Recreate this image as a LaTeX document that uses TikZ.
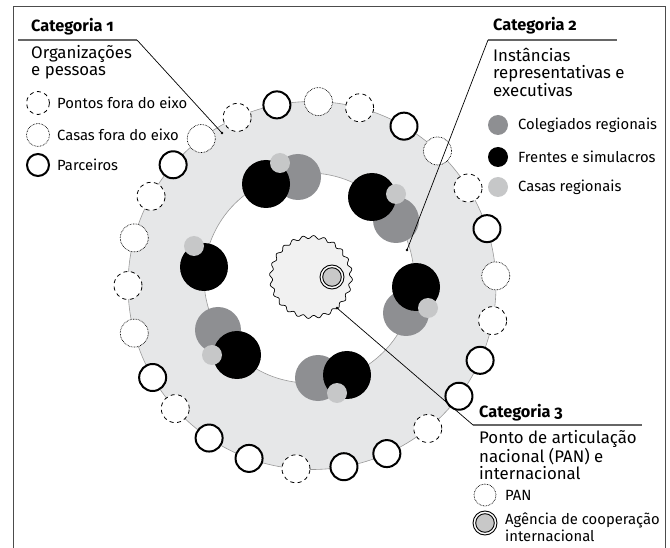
\documentclass[tikz,border=0pt]{standalone}
\usepackage{fontspec}
\setmainfont{Fira Sans}[Numbers=OldStyle]
\usepackage{tikz}
\usetikzlibrary{calc}

\definecolor{cinzaanel}{RGB}{230,231,232}
\definecolor{colegiado}{RGB}{142,143,146}
\definecolor{casareg}{RGB}{198,199,200}
\definecolor{panfundo}{RGB}{241,241,241}
\definecolor{agencia}{RGB}{200,200,200}

\tikzset{
  parceiro/.style={circle, draw=black, line width=2pt, fill=white, minimum size=27pt, inner sep=0pt},
  ponto/.style={circle, draw=black, line width=0.8pt, dash pattern=on 4pt off 3.5pt, fill=white, minimum size=28pt, inner sep=0pt},
  casa/.style={circle, draw=black, line width=0.7pt, dash pattern=on 0.7pt off 0.9pt, fill=white, minimum size=28pt, inner sep=0pt},
  titulo/.style={anchor=west, inner sep=0pt, font=\fontsize{16.3}{17}\selectfont\bfseries},
  texto/.style={anchor=west, align=left, inner sep=0pt, font=\fontsize{16.8}{17.5}\selectfont},
  legenda/.style={anchor=west, align=left, inner sep=0pt, font=\fontsize{14.8}{16.5}\selectfont},
  seta/.style={draw=black, line width=0.7pt},
  regua/.style={draw=black!60, line width=1.1pt}
}

\begin{document}
\begin{tikzpicture}[x=1pt,y=-1pt]
\useasboundingbox (0,0) rectangle (670,548);
\draw [black!70, line width=1pt] (13,548) -- (13,7) -- (665,7) -- (665,548);

% anel externo e circulo interno
\coordinate (centro) at (312,285.5);
\draw [black!40, line width=0.6pt, fill=cinzaanel] (centro) circle [radius=184];
\draw [black!40, line width=0.6pt, fill=white] (309,278) circle [radius=105];

\foreach \a/\s [count=\i] in {101/parceiro, 88/casa, 75/ponto, 60/parceiro, 47/casa, 32/ponto,
  18/parceiro, 3/casa, -11/ponto, -24/parceiro, -37/parceiro, -51/ponto, -66/parceiro,
  -80/parceiro, -95/ponto, -110/parceiro, -124/parceiro, -138/ponto, -150/parceiro,
  -165/casa, -180/ponto, 165/casa, 151/ponto, 139/parceiro, 127/casa, 114/ponto}
  \node [\s] (r\i) at ($(centro)+({-\a}:184)$) {};

% instancias regionais
\foreach \gx/\gy/\bx/\by/\cx/\cy in {298/177/266/184/280/163, 396/220/372/197/396/194,
  406/313/416/287/428/308, 218/330/237/355/212/355, 318/378/347/375/337/393} {
  \fill [colegiado] (\gx,\gy) circle [radius=23];
  \fill [black] (\bx,\by) circle [radius=24];
  \fill [casareg] (\cx,\cy) circle [radius=10];
}
\fill [black] (204,267) circle [radius=24];
\fill [casareg] (194,246) circle [radius=10];

% PAN
\draw [black, line width=0.7pt, fill=panfundo] plot [domain=0:360, samples=400, smooth]
  ({311+(40+1.5*sin(24*\x))*cos(\x)}, {277+(40+1.5*sin(24*\x))*sin(\x)});
\draw [line width=0.9pt, fill=white] (332,277) circle [radius=12];
\draw [line width=0.9pt, fill=agencia] (332,277) circle [radius=9.3];

% Categoria 1
\node [titulo] (cat1) at (31,27) {Categoria 1};
\node [texto] (txt1) at (31,62) {Organizações\\e pessoas};
\coordinate (c1a) at (18,40);
\coordinate (c1b) at (137,40);
\coordinate (c1c) at (222,133);
\draw [regua] (c1a) -- (c1b);
\draw [seta] (c1b) -- (c1c); \fill (c1c) circle [radius=1.3];
\node [ponto, minimum size=23pt] (l1a) at (38,103) {};
\node [legenda] at (57,103) {Pontos fora do eixo};
\node [casa, minimum size=23pt] (l1b) at (38,135) {};
\node [legenda] at (57,135) {Casas fora do eixo};
\node [parceiro, minimum size=22pt] (l1c) at (38,165) {};
\node [legenda] at (57,165) {Parceiros};

% Categoria 2
\node [titulo] (cat2) at (493,26) {Categoria 2};
\node [texto] (txt2) at (493,72) {Instâncias\\representativas e\\executivas};
\coordinate (c2a) at (488,40);
\coordinate (c2b) at (617,40);
\coordinate (c2c) at (407,250);
\draw [regua] (c2a) -- (c2b);
\draw [seta] (c2a) -- (c2c); \fill (c2c) circle [radius=1.3];
\fill [colegiado] (498,125) circle [radius=10];
\node [legenda] at (518,125) {Colegiados regionais};
\fill [black] (498,157) circle [radius=10];
\node [legenda] at (518,157) {Frentes e simulacros};
\fill [casareg] (498,187) circle [radius=10];
\node [legenda] at (518,187) {Casas regionais};

% Categoria 3
\node [titulo] (cat3) at (479,413) {Categoria 3};
\node [texto] (txt3) at (479,455) {Ponto de articulação\\nacional (PAN) e\\internacional};
\coordinate (c3a) at (473,425);
\coordinate (c3b) at (642,425);
\coordinate (c3c) at (337,308);
\draw [regua] (c3a) -- (c3b);
\draw [seta] (c3a) -- (c3c); \fill (c3c) circle [radius=1.3];
\node [casa, minimum size=22pt] (l3a) at (485,495) {};
\node [legenda] at (505,495) {PAN};
\draw [line width=0.9pt, fill=white] (485,523) circle [radius=12];
\draw [line width=0.9pt, fill=agencia] (485,523) circle [radius=9.3];
\node [legenda] at (505,527) {Agência de cooperação\\internacional};
\end{tikzpicture}
\end{document}
